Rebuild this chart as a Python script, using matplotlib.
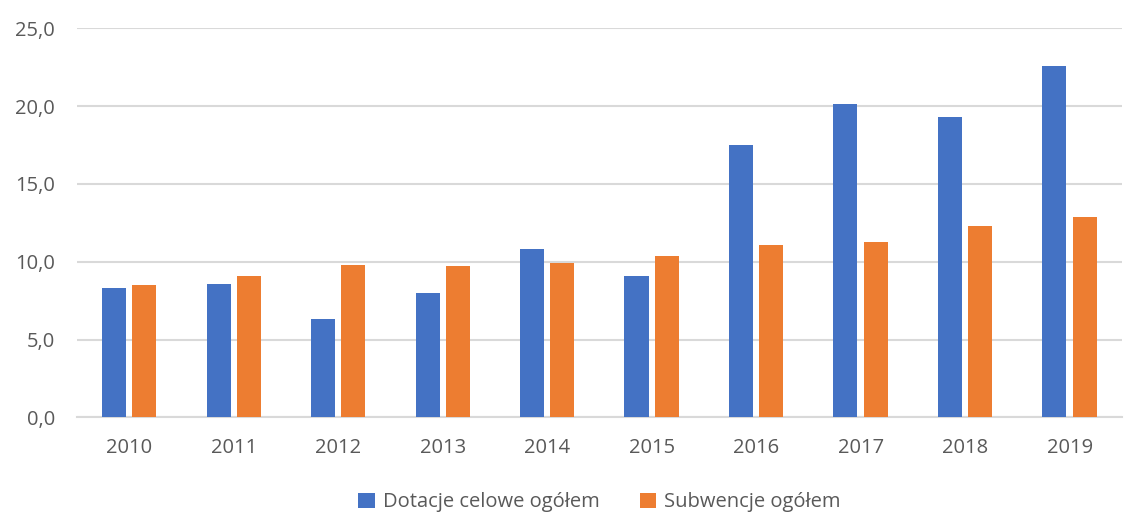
import numpy as np
import matplotlib.pyplot as plt
from matplotlib.ticker import FuncFormatter

years = ["2010", "2011", "2012", "2013", "2014", "2015", "2016", "2017", "2018", "2019"]
dotacje = [8.3, 8.6, 6.3, 8.0, 10.8, 9.1, 17.5, 20.1, 19.3, 22.6]
subwencje = [8.5, 9.1, 9.8, 9.7, 9.9, 10.4, 11.1, 11.3, 12.3, 12.9]

plt.rcParams["font.family"] = ["Open Sans", "DejaVu Sans"]

fig = plt.figure(figsize=(11.32, 5.12), dpi=100)
ax = fig.add_axes([0.068, 0.1846, 0.923, 0.7604])

x = np.arange(len(years))
w = 0.23
gap = 0.06
ax.bar(x - (w + gap) / 2, dotacje, w, color="#4472C4", label="Dotacje celowe ogółem", zorder=3)
ax.bar(x + (w + gap) / 2, subwencje, w, color="#ED7D31", label="Subwencje ogółem", zorder=3)

ax.set_xlim(-0.5, len(years) - 0.5)
ax.set_ylim(0, 25)
ax.set_yticks(np.arange(0, 26, 5))
ax.yaxis.set_major_formatter(FuncFormatter(lambda v, p: f"{v:.1f}".replace(".", ",")))
ax.set_xticks(x)
ax.set_xticklabels(years)

ax.grid(axis="y", color="#D9D9D9", linewidth=1.5, zorder=0)
for s in ["top", "right", "left"]:
    ax.spines[s].set_visible(False)
ax.spines["bottom"].set_color("#D9D9D9")
ax.spines["bottom"].set_linewidth(1.5)
ax.tick_params(axis="both", length=0, labelsize=14.5, colors="#595959")
ax.tick_params(axis="x", pad=15)
ax.tick_params(axis="y", pad=16)

leg = ax.legend(loc="center", bbox_to_anchor=(0.5, -0.218), ncol=2, frameon=False,
                fontsize=14.5, handlelength=0.8, handleheight=0.8, columnspacing=2.0,
                handletextpad=0.4, labelcolor="#595959")

fig.savefig("out.png", dpi=100)
